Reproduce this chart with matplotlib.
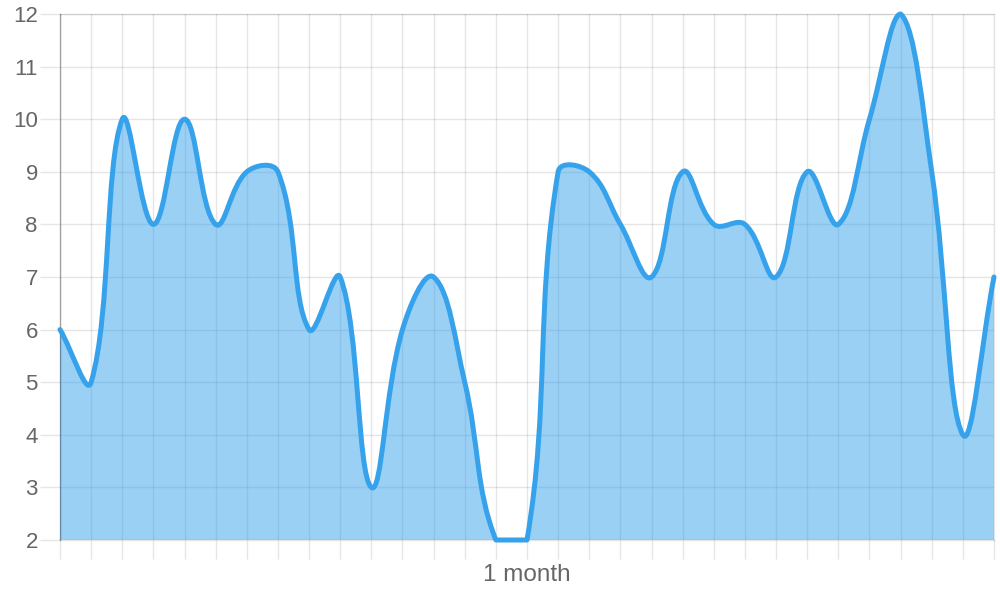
import numpy as np
import matplotlib
matplotlib.use("Agg")
import matplotlib.pyplot as plt
from matplotlib.path import Path
from matplotlib.patches import PathPatch

# ---- data ----
values = [6, 5, 10, 8, 10, 8, 9, 9, 6, 7, 3, 6, 7, 5, 2, 2,
          9, 9, 8, 7, 9, 8, 8, 7, 9, 8, 10, 12, 9, 4, 7]
x_labels = [""] * 15 + ["1 month"] + [""] * 15
y_ticks = [2, 3, 4, 5, 6, 7, 8, 9, 10, 11, 12]

LINE = "#36A2EB"
FILL = (54 / 255, 162 / 255, 235 / 255, 0.5)
TEXT = "#666666"
FONT = "Liberation Sans"
TENSION = 0.4

fig = plt.figure(figsize=(10, 6), dpi=100)
ax = fig.add_axes([60 / 1000, 60 / 600, 934 / 1000, 526 / 600])

n = len(values)
xs = np.arange(n, dtype=float)
ys = np.array(values, dtype=float)
ax.set_xlim(0, n - 1)
ax.set_ylim(min(y_ticks), max(y_ticks))

# Chart.js style bezier spline computed in pixel space
pts = ax.transData.transform(np.column_stack([xs, ys]))
x0b, y0b, x1b, y1b = ax.bbox.extents
cp_prev = np.zeros_like(pts)
cp_next = np.zeros_like(pts)
for i in range(n):
    cur = pts[i]
    prv = pts[i - 1] if i > 0 else cur
    nxt = pts[i + 1] if i < n - 1 else cur
    d01 = np.hypot(*(cur - prv))
    d12 = np.hypot(*(nxt - cur))
    tot = d01 + d12
    s01 = d01 / tot if tot else 0
    s12 = d12 / tot if tot else 0
    fa = TENSION * s01
    fb = TENSION * s12
    cp_prev[i] = cur - fa * (nxt - prv)
    cp_next[i] = cur + fb * (nxt - prv)
for arr in (cp_prev, cp_next):
    arr[:, 0] = np.clip(arr[:, 0], x0b, x1b)
    arr[:, 1] = np.clip(arr[:, 1], y0b, y1b)

inv = ax.transData.inverted()
verts = [pts[0]]
codes = [Path.MOVETO]
for i in range(1, n):
    verts += [cp_next[i - 1], cp_prev[i], pts[i]]
    codes += [Path.CURVE4] * 3
verts = inv.transform(np.array(verts))

line_path = Path(verts, codes)
base = min(y_ticks)
fill_verts = np.vstack([verts, [[xs[-1], base], [xs[0], base], [xs[0], ys[0]]]])
fill_codes = codes + [Path.LINETO, Path.LINETO, Path.CLOSEPOLY]
fill_path = Path(fill_verts, fill_codes)

ax.add_patch(PathPatch(fill_path, facecolor=FILL, edgecolor="none", zorder=2))
ax.add_patch(PathPatch(line_path, facecolor="none", edgecolor=LINE, linewidth=3.6,
                       capstyle="round", joinstyle="round", zorder=3, clip_on=False))

# axes styling
GRID_RGB = "#000000"
ax.set_axisbelow(True)
ax.set_xticks(xs)
ax.set_xticklabels(x_labels, fontfamily=FONT, fontsize=17.5, color=TEXT)
ax.set_yticks(y_ticks)
ax.set_yticklabels([str(v) for v in y_ticks], fontfamily=FONT, fontsize=16, color=TEXT)
ax.grid(True, color=GRID_RGB, alpha=0.1, linewidth=1.0)
ax.tick_params(axis="y", length=14.5, width=1.0, color="#e6e6e6", pad=1.5)
ax.tick_params(axis="x", length=13.5, width=1.0, color="#e6e6e6", pad=4)
for s in ("top", "right", "bottom"):
    ax.spines[s].set_color("#000000")
    ax.spines[s].set_alpha(0.1)
    ax.spines[s].set_linewidth(1.0)
ax.spines["left"].set_color("#000000")
ax.spines["left"].set_alpha(0.3)
ax.spines["left"].set_linewidth(1.0)
ax.xaxis.get_major_ticks()[0].tick1line.set_color("#b3b3b3")

fig.savefig("out.png", dpi=100)
